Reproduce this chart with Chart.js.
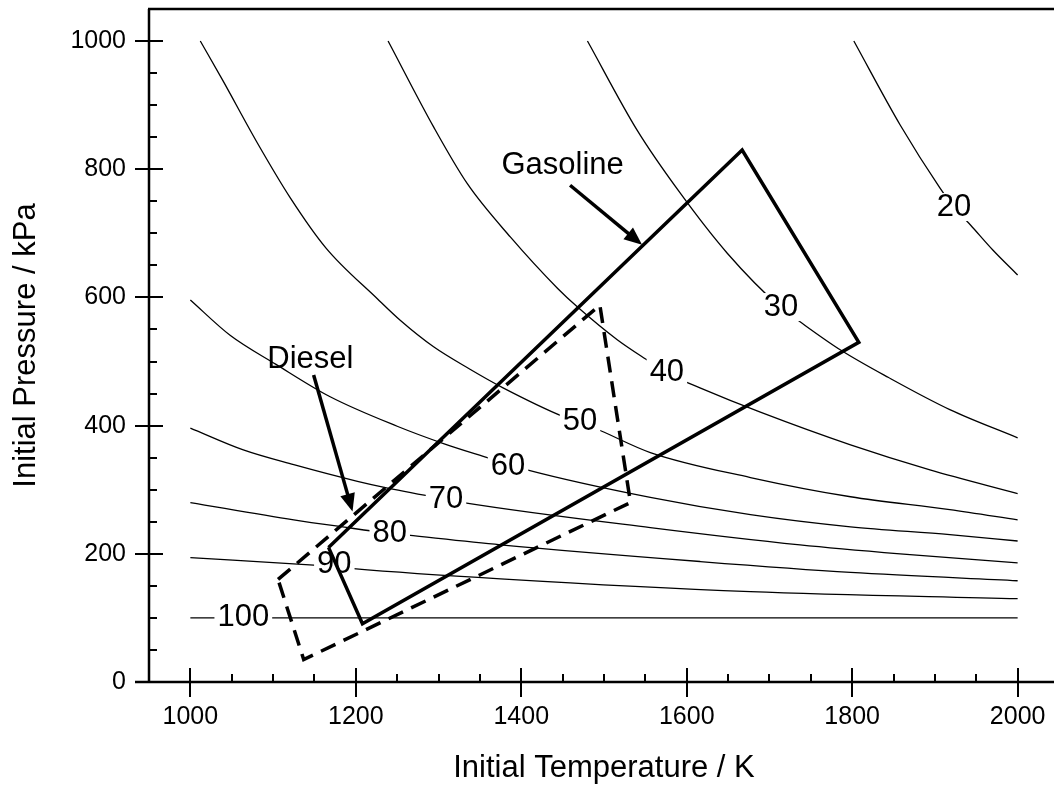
<!DOCTYPE html>
<html>
<head>
<meta charset="utf-8">
<script src="https://cdn.jsdelivr.net/npm/chart.js@4.4.1/dist/chart.umd.min.js"></script>
<style>
  html, body { margin: 0; padding: 0; background: #fff; overflow: hidden; }
  #wrap { width: 1054px; height: 787px; overflow: hidden; }
</style>
</head>
<body>
<div id="wrap"><canvas id="chart" width="1070" height="787"></canvas></div>
<script>
// axis ticks: initial temperature (K) and initial pressure (kPa)
const xTicks = [1000, 1200, 1400, 1600, 1800, 2000];
const yTicks = [0, 200, 400, 600, 800, 1000];

// contour levels, each traced as temperature / pressure pairs
const levels = [20, 30, 40, 50, 60, 70, 80, 90, 100];
const t20 = [1802, 1858, 1906, 1923, 1943, 1970, 2000];
const p20 = [1000, 869, 771, 741, 713, 674, 635];
const t30 = [1480, 1540, 1592, 1649, 1713, 1737, 1786, 1844, 1918, 2000];
const p30 = [1000, 861, 763, 669, 585, 562, 518, 475, 425, 381];
const t40 = [1239, 1294, 1335, 1387, 1444, 1468, 1516, 1556, 1576, 1616, 1689, 1798, 1894, 2000];
const p40 = [1000, 866, 777, 694, 614, 585, 534, 499, 482, 459, 421, 370, 331, 294];
const t50 = [1012, 1039, 1081, 1121, 1164, 1226, 1254, 1294, 1338, 1378, 1451, 1471, 1496, 1556, 1677, 1798, 1918, 2000];
const p50 = [1000, 939, 841, 755, 677, 598, 564, 523, 488, 459, 414, 405, 392, 358, 319, 289, 269, 253];
const t60 = [1000, 1048, 1103, 1169, 1250, 1306, 1354, 1384, 1407, 1556, 1677, 1798, 1918, 2000];
const p60 = [596, 541, 496, 445, 399, 372, 352, 340, 331, 288, 261, 242, 230, 220];
const t70 = [1000, 1064, 1125, 1202, 1233, 1309, 1330, 1556, 1737, 1858, 2000];
const p70 = [396, 362, 339, 313, 304, 285, 280, 241, 214, 200, 186];
const t80 = [1000, 1125, 1184, 1241, 1263, 1375, 1616, 1798, 2000];
const p80 = [280, 253, 242, 232, 229, 214, 188, 171, 158];
const t90 = [1000, 1154, 1174, 1197, 1375, 1677, 2000];
const p90 = [194, 182, 180, 177, 161, 141, 130];
const t100 = [1000, 2000];
const p100 = [100, 100];
const levelT = [t20, t30, t40, t50, t60, t70, t80, t90, t100];
const levelP = [p20, p30, p40, p50, p60, p70, p80, p90, p100];

// where each level number sits on its curve
const levelLabelT = [1923, 1714, 1576, 1471, 1384, 1309, 1241, 1174, 1064];
const levelLabelP = [741, 585, 483, 406, 337, 285, 232, 184, 100];

// operating regions (closed outlines)
const gasolineT = [1167, 1667, 1808, 1208, 1167];
const gasolineP = [210, 830, 530, 91, 210];
const dieselT = [1106, 1495, 1532, 1137, 1106];
const dieselP = [160, 588, 280, 35, 160];

// region names and their pointer arrows [startT, startP, tipT, tipP]
const regionNames = ['Gasoline', 'Diesel'];
const regionNameT = [1450, 1145];
const regionNameP = [806, 503];
const gasolineArrow = [1459, 775, 1546, 682];
const dieselArrow = [1149, 479, 1196, 266];

const FONT = '"Liberation Sans", Arial, Helvetica, sans-serif';
Chart.defaults.font.family = FONT;
Chart.defaults.color = '#000';

const pts = (ts, ps) => ts.map((t, i) => ({ x: t, y: ps[i] }));

const datasets = [
  { data: pts(gasolineT, gasolineP), borderColor: '#000', borderWidth: 3.5,
    borderJoinStyle: 'miter', showLine: true, pointRadius: 0 },
  { data: pts(dieselT, dieselP), borderColor: '#000', borderWidth: 3.5, borderDash: [16, 9],
    borderJoinStyle: 'miter', showLine: true, pointRadius: 0 },
  ...levels.map((lv, i) => ({
    data: pts(levelT[i], levelP[i]), borderColor: '#000', borderWidth: 1.3,
    showLine: true, pointRadius: 0, cubicInterpolationMode: 'monotone',
  })),
];

function arrow(ctx, x, y, a) {
  const x0 = x.getPixelForValue(a[0]), y0 = y.getPixelForValue(a[1]);
  const x1 = x.getPixelForValue(a[2]), y1 = y.getPixelForValue(a[3]);
  const ang = Math.atan2(y1 - y0, x1 - x0);
  const len = 18, half = 7.5;
  const bx = x1 - len * Math.cos(ang), by = y1 - len * Math.sin(ang);
  ctx.beginPath();
  ctx.moveTo(x0, y0);
  ctx.lineTo(bx + 2 * Math.cos(ang), by + 2 * Math.sin(ang));
  ctx.lineWidth = 3.5;
  ctx.stroke();
  ctx.beginPath();
  ctx.moveTo(x1, y1);
  ctx.lineTo(bx + half * Math.sin(ang), by - half * Math.cos(ang));
  ctx.lineTo(bx - half * Math.sin(ang), by + half * Math.cos(ang));
  ctx.closePath();
  ctx.fill();
}

const overlay = {
  id: 'overlay',
  // level numbers go on after the contours, under the region outlines
  beforeDatasetDraw(chart, args) {
    if (args.index !== 1) return;
    const { ctx, scales: { x, y } } = chart;
    ctx.save();
    ctx.font = `31px ${FONT}`;
    ctx.textAlign = 'center';
    ctx.textBaseline = 'middle';
    levels.forEach((lv, i) => {
      const px = x.getPixelForValue(levelLabelT[i]);
      const py = y.getPixelForValue(levelLabelP[i]);
      const w = ctx.measureText(String(lv)).width;
      ctx.fillStyle = '#fff';
      ctx.fillRect(px - w / 2 - 3, py - 14, w + 6, 28);
      ctx.fillStyle = '#000';
      ctx.fillText(String(lv), px, py);
    });
    ctx.restore();
  },
  afterDatasetsDraw(chart) {
    const { ctx, scales: { x, y } } = chart;
    ctx.save();
    ctx.fillStyle = '#000';
    ctx.strokeStyle = '#000';
    ctx.font = `31px ${FONT}`;
    ctx.textAlign = 'center';
    ctx.textBaseline = 'middle';
    regionNames.forEach((n, i) => {
      ctx.fillText(n, x.getPixelForValue(regionNameT[i]), y.getPixelForValue(regionNameP[i]));
    });
    arrow(ctx, x, y, gasolineArrow);
    arrow(ctx, x, y, dieselArrow);
    ctx.restore();
  },
  // frame with crossing major ticks and inward minor ticks
  afterDraw(chart) {
    const { ctx, chartArea: a, scales: { x, y } } = chart;
    ctx.save();
    ctx.strokeStyle = '#000';
    ctx.lineWidth = 2.5;
    ctx.beginPath();
    ctx.moveTo(a.left, a.bottom); ctx.lineTo(a.left, a.top);
    ctx.moveTo(a.left - 1, a.top); ctx.lineTo(chart.width, a.top);
    ctx.moveTo(a.left - 14, a.bottom); ctx.lineTo(chart.width, a.bottom);
    ctx.stroke();
    ctx.lineWidth = 2;
    ctx.beginPath();
    for (let v = 0; v <= y.max; v += 50) {
      const py = Math.round(y.getPixelForValue(v));
      if (yTicks.includes(v)) { ctx.moveTo(a.left - 14, py); ctx.lineTo(a.left + 14, py); }
      else { ctx.moveTo(a.left, py); ctx.lineTo(a.left + 8, py); }
    }
    for (let v = 1000; v <= x.max; v += 50) {
      const px = Math.round(x.getPixelForValue(v));
      if (xTicks.includes(v)) { ctx.moveTo(px, a.bottom - 14); ctx.lineTo(px, a.bottom + 15); }
      else { ctx.moveTo(px, a.bottom); ctx.lineTo(px, a.bottom - 8); }
    }
    ctx.stroke();
    ctx.restore();
  },
};

new Chart(document.getElementById('chart'), {
  type: 'scatter',
  data: { datasets },
  options: {
    responsive: false,
    animation: false,
    devicePixelRatio: 1,
    layout: { padding: { left: 0, top: 9, right: 11, bottom: 0 } },
    plugins: { legend: { display: false }, tooltip: { enabled: false } },
    scales: {
      x: {
        type: 'linear', min: 950, max: 2050,
        grid: { display: false, drawTicks: false }, border: { display: false },
        afterBuildTicks: (s) => { s.ticks = xTicks.map((v) => ({ value: v })); },
        afterFit: (s) => { s.height = 105; s.paddingLeft = 0; s.paddingRight = 0; },
        ticks: { color: '#000', font: { size: 25 }, padding: 20, maxRotation: 0, autoSkip: false,
                 callback: (v) => String(v) },
        title: { display: true, text: 'Initial Temperature / K', color: '#000',
                 font: { size: 31 }, padding: { top: 0, bottom: 0 } },
      },
      y: {
        type: 'linear', min: 0, max: 1050,
        grid: { display: false, drawTicks: false }, border: { display: false },
        afterBuildTicks: (s) => { s.ticks = yTicks.map((v) => ({ value: v })); },
        afterFit: (s) => { s.width = 149; s.paddingTop = 0; s.paddingBottom = 0; },
        ticks: { color: '#000', font: { size: 25 }, padding: 23, autoSkip: false,
                 callback: (v) => String(v) },
        title: { display: true, text: 'Initial Pressure / kPa', color: '#000',
                 font: { size: 31 }, padding: { top: 8, bottom: 0 } },
      },
    },
  },
  plugins: [overlay],
});
</script>
</body>
</html>
